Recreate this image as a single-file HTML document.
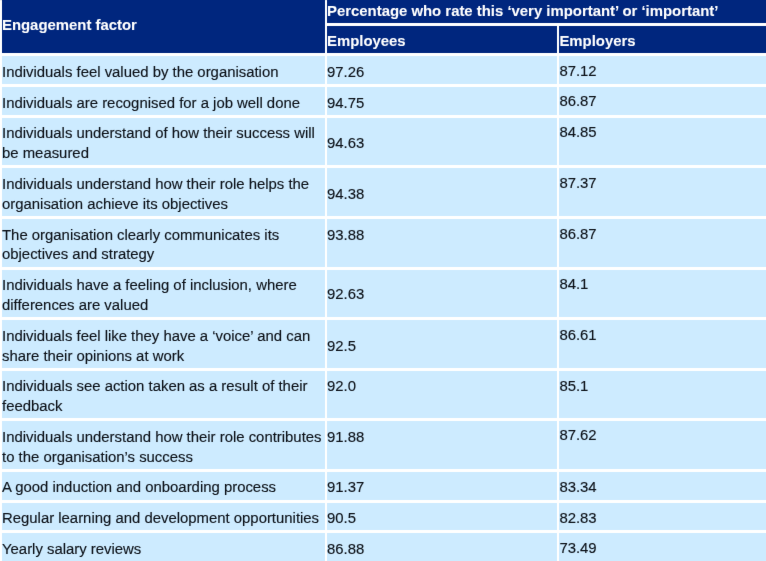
<!DOCTYPE html>
<html lang="en">
<head>
<meta charset="utf-8">
<title>Engagement factors</title>
<style>
html,body{margin:0;padding:0;background:#fff;}
body{width:766px;height:561px;position:relative;overflow:hidden;}
#wrap{background:#fff;position:absolute;left:0;top:0;width:788px;height:579px;filter:url(#soft);}
table{position:absolute;left:0;top:-9px;width:778px;table-layout:fixed;border-collapse:separate;border-spacing:2px 3px;
  font-family:"Liberation Sans",Arial,Helvetica,sans-serif;font-size:14.9px;line-height:19.8px;color:#0c1118;}
th,td{position:relative;padding:0;margin:0;border:0;text-align:left;vertical-align:top;white-space:nowrap;overflow:visible;}
th{background:#00267e;color:#fff;font-weight:bold;}
td{background:#cdebff;}
.t{position:absolute;left:0;display:block;-webkit-text-stroke:0.13px #0c1118;}
th .t{-webkit-text-stroke:0.08px #fff;}
</style>
</head>
<body>
<svg width="0" height="0" style="position:absolute" aria-hidden="true"><defs>
<filter id="soft" x="0" y="0" width="100%" height="100%" color-interpolation-filters="sRGB">
<feConvolveMatrix order="3" kernelMatrix="0.00360 0.05280 0.00360 0.05280 0.77440 0.05280 0.00360 0.05280 0.00360" divisor="1" edgeMode="duplicate" preserveAlpha="true"/>
</filter></defs></svg>
<div id="wrap">
<table>
<colgroup><col style="width:323px"><col style="width:230px"><col style="width:217px"></colgroup>
<thead>
<tr style="height:29px">
<th rowspan="2" scope="col"><span class="t" style="top:21.94px">Engagement factor</span></th>
<th colspan="2" scope="colgroup"><span class="t" style="top:7.84px">Percentage who rate this ‘very important’ or ‘important’</span></th>
</tr>
<tr style="height:27px">
<th scope="col"><span class="t" style="top:5.84px">Employees</span></th>
<th scope="col"><span class="t" style="top:5.84px;left:0.4px">Employers</span></th>
</tr>
</thead>
<tbody>
<tr style="height:28px"><td><span class="t" style="top:6.94px">Individuals feel valued by the organisation</span></td><td><span class="t" style="top:6.94px">97.26</span></td><td><span class="t" style="top:5.64px;left:0.4px">87.12</span></td></tr>
<tr style="height:28px"><td><span class="t" style="top:6.71px">Individuals are recognised for a job well done</span></td><td><span class="t" style="top:6.71px">94.75</span></td><td><span class="t" style="top:5.41px;left:0.4px">86.87</span></td></tr>
<tr style="height:47px"><td><span class="t" style="top:5.98px">Individuals understand of how their success will<br>be measured</span></td><td><span class="t" style="top:16.28px">94.63</span></td><td><span class="t" style="top:5.38px;left:0.4px">84.85</span></td></tr>
<tr style="height:48px"><td><span class="t" style="top:7.05px">Individuals understand how their role helps the<br>organisation achieve its objectives</span></td><td><span class="t" style="top:17.05px">94.38</span></td><td><span class="t" style="top:5.55px;left:0.4px">87.37</span></td></tr>
<tr style="height:48px"><td><span class="t" style="top:6.62px">The organisation clearly communicates its<br>objectives and strategy</span></td><td><span class="t" style="top:6.62px">93.88</span></td><td><span class="t" style="top:5.92px;left:0.4px">86.87</span></td></tr>
<tr style="height:47px"><td><span class="t" style="top:6.29px">Individuals have a feeling of inclusion, where<br>differences are valued</span></td><td><span class="t" style="top:15.09px">92.63</span></td><td><span class="t" style="top:5.49px;left:0.4px">84.1</span></td></tr>
<tr style="height:48px"><td><span class="t" style="top:6.76px">Individuals feel like they have a ‘voice’ and can<br>share their opinions at work</span></td><td><span class="t" style="top:16.56px">92.5</span></td><td><span class="t" style="top:6.06px;left:0.4px">86.61</span></td></tr>
<tr style="height:47px"><td><span class="t" style="top:6.13px">Individuals see action taken as a result of their<br>feedback</span></td><td><span class="t" style="top:6.13px">92.0</span></td><td><span class="t" style="top:5.53px;left:0.4px">85.1</span></td></tr>
<tr style="height:48px"><td><span class="t" style="top:6.90px">Individuals understand how their role contributes<br>to the organisation’s success</span></td><td><span class="t" style="top:6.90px">91.88</span></td><td><span class="t" style="top:5.40px;left:0.4px">87.62</span></td></tr>
<tr style="height:28px"><td><span class="t" style="top:6.47px">A good induction and onboarding process</span></td><td><span class="t" style="top:6.47px">91.37</span></td><td><span class="t" style="top:5.57px;left:0.4px">83.34</span></td></tr>
<tr style="height:27px"><td><span class="t" style="top:6.14px">Regular learning and development opportunities</span></td><td><span class="t" style="top:6.14px">90.5</span></td><td><span class="t" style="top:6.44px;left:0.4px">82.83</span></td></tr>
<tr style="height:36px"><td><span class="t" style="top:7.01px">Yearly salary reviews</span></td><td><span class="t" style="top:7.01px">86.88</span></td><td><span class="t" style="top:6.01px;left:0.4px">73.49</span></td></tr>
</tbody>
</table>
</div>
</body>
</html>
